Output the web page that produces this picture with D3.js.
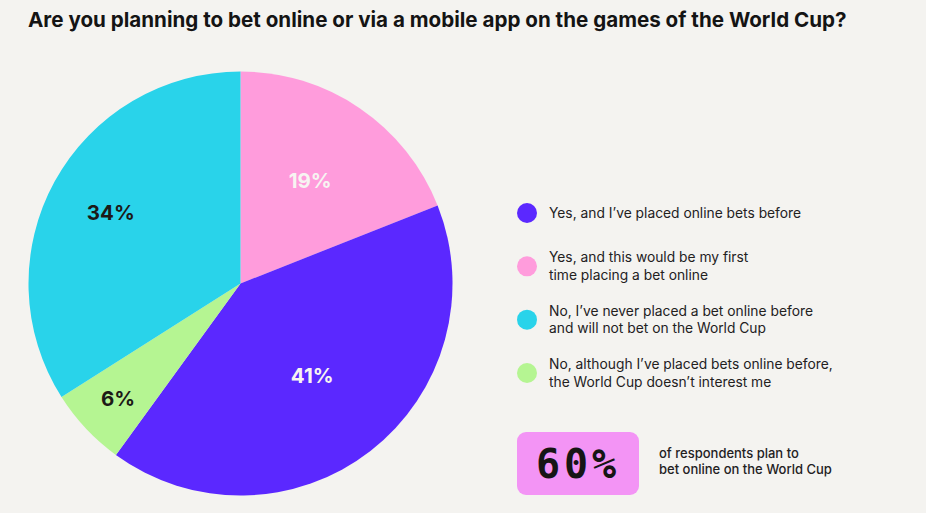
<!DOCTYPE html>
<html>
<head>
<meta charset="utf-8">
<script src="https://cdn.jsdelivr.net/npm/d3@7"></script>
<style>
  body { margin: 0; background: #f4f3f0; }
  svg { display: block; font-family: Inter, "Noto Sans", sans-serif; }
</style>
</head>
<body>
<svg id="chart" width="926" height="513"></svg>
<script>
const categories = [
  "Yes, and this would be my first time placing a bet online",
  "Yes, and I've placed online bets before",
  "No, although I've placed bets online before, the World Cup doesn't interest me",
  "No, I've never placed a bet online before and will not bet on the World Cup"
];
const shares = [19, 41, 6, 34];
const sliceColors = ["#ff9cdc", "#5b28ff", "#b5f592", "#29d3ea"];
const labelColors = ["#f7f4f2", "#f7f4f2", "#1c1a17", "#1c1a17"];

// legend order differs from slice order
const legendOrder = [1, 0, 3, 2];
const legendLines = [
  ["Yes, and I\u2019ve placed online bets before"],
  ["Yes, and this would be my first", "time placing a bet online"],
  ["No, I\u2019ve never placed a bet online before", "and will not bet on the World Cup"],
  ["No, although I\u2019ve placed bets online before,", "the World Cup doesn\u2019t interest me"]
];

const highlightValue = "60%";
const highlightText = ["of respondents plan to", "bet online on the World Cup"];

const svg = d3.select("#chart");

svg.append("text")
    .attr("x", 28)
    .attr("y", 27)
    .attr("font-size", 20.6)
    .attr("font-weight", 700)
    .attr("fill", "#141414")
    .text("Are you planning to bet online or via a mobile app on the games of the World Cup?");

//Pie
const radius = 212;
const pieGroup = svg.append("g")
    .attr("transform", "translate(240.5, 283.5)");

const pie = d3.pie().sort(null).value(d => d);
const arc = d3.arc().innerRadius(0).outerRadius(radius);
const arcs = pie(shares);

pieGroup.selectAll("path")
  .data(arcs)
  .join("path")
    .attr("d", arc)
    .attr("fill", (d, i) => sliceColors[i]);

//Labels sit at slightly different distances from the centre
const labelRadius = [124, 117, 168, 148];
pieGroup.selectAll(".slice-label")
  .data(arcs)
  .join("text")
    .attr("class", "slice-label")
    .attr("transform", (d, i) => {
      const a = (d.startAngle + d.endAngle) / 2;
      const r = labelRadius[i];
      return `translate(${Math.sin(a) * r}, ${-Math.cos(a) * r})`;
    })
    .attr("text-anchor", "middle")
    .attr("dy", "0.36em")
    .attr("font-size", 20.5)
    .attr("font-weight", 700)
    .attr("fill", (d, i) => labelColors[i])
    .text(d => `${d.data}%`);

//Legend
const legendY = d3.scalePoint()
  .domain(d3.range(legendOrder.length))
  .range([213, 373]);

const legend = svg.append("g")
  .selectAll("g")
  .data(legendOrder)
  .join("g")
    .attr("transform", (d, i) => `translate(527, ${legendY(i)})`);

legend.append("circle")
    .attr("r", 10)
    .attr("fill", d => sliceColors[d]);

legend.append("text")
    .attr("x", 22)
    .attr("font-size", 13.8)
    .attr("fill", "#23211e")
    .each(function(d, i) {
      const lines = legendLines[i];
      const start = -(lines.length - 1) * 17.5 / 2;
      d3.select(this).selectAll("tspan")
        .data(lines)
        .join("tspan")
          .attr("x", 22)
          .attr("y", (l, j) => start + j * 17.5)
          .attr("dy", "0.35em")
          .text(l => l);
    });

//Highlight box
svg.append("rect")
    .attr("x", 517)
    .attr("y", 432)
    .attr("width", 122)
    .attr("height", 63)
    .attr("rx", 9)
    .attr("fill", "#f394f5");

svg.append("text")
    .attr("x", 578)
    .attr("y", 478)
    .attr("text-anchor", "middle")
    .attr("font-family", "'DejaVu Sans Mono', monospace")
    .attr("font-size", 40)
    .attr("font-weight", 700)
    .attr("letter-spacing", 4)
    .attr("fill", "#171514")
    .text(highlightValue);

svg.append("text")
    .attr("font-size", 13)
    .attr("font-weight", 500)
    .attr("fill", "#23211e")
  .selectAll("tspan")
  .data(highlightText)
  .join("tspan")
    .attr("x", 659)
    .attr("y", (d, i) => 458 + i * 15.5)
    .text(d => d);
</script>
</body>
</html>
